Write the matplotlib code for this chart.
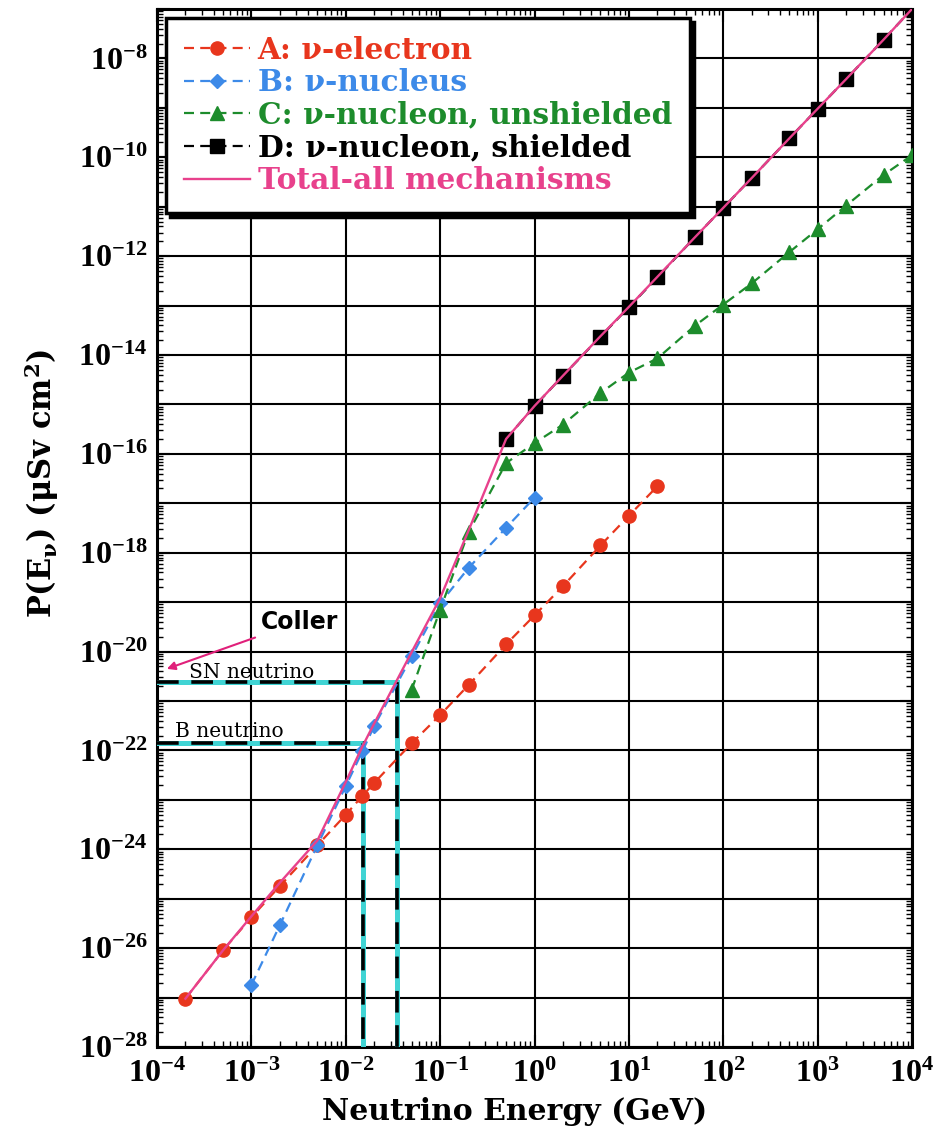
import numpy as np
import matplotlib
matplotlib.use("Agg")
import matplotlib.pyplot as plt
from matplotlib.ticker import LogLocator, FuncFormatter, NullFormatter

# ---- dose conversion coefficients P(E) in uSv cm^2 ----
energy_A = [2e-4, 5e-4, 1e-3, 2e-3, 5e-3, 1e-2, 1.5e-2, 2e-2, 5e-2, 0.1, 0.2, 0.5,
            1, 2, 5, 10, 20]
dose_A = [9.5e-28, 9.0e-27, 4.2e-26, 1.8e-25, 1.2e-24, 5.0e-24, 1.2e-23, 2.2e-23,
          1.4e-22, 5.2e-22, 2.1e-21, 1.4e-20, 5.4e-20, 2.1e-19, 1.4e-18, 5.6e-18,
          2.2e-17]

energy_B = [1e-3, 2e-3, 5e-3, 1e-2, 1.5e-2, 2e-2, 5e-2, 0.1, 0.2, 0.5, 1]
dose_B = [1.8e-27, 2.9e-26, 1.2e-24, 1.9e-23, 9.6e-23, 3.1e-22, 8.0e-21, 9.5e-20,
          4.9e-19, 3.2e-18, 1.3e-17]

energy_C = [5e-2, 0.1, 0.2, 0.5, 1, 2, 5, 10, 20, 50, 100, 200, 500, 1e3, 2e3, 5e3, 1e4]
dose_C = [1.7e-21, 7.0e-20, 2.6e-18, 6.5e-17, 1.65e-16, 3.9e-16, 1.7e-15, 4.4e-15,
          8.5e-15, 3.9e-14, 1.05e-13, 2.8e-13, 1.2e-12, 3.5e-12, 1.05e-11, 4.4e-11,
          1.1e-10]

energy_D = [0.5, 1, 2, 5, 10, 20, 50, 100, 200, 500, 1e3, 2e3, 5e3, 1e4]
dose_D = [2.0e-16, 9.2e-16, 3.8e-15, 2.35e-14, 9.3e-14, 3.7e-13, 2.4e-12, 9.5e-12,
          3.8e-11, 2.4e-10, 9.6e-10, 3.8e-9, 2.4e-8, 1.0e-7]

energy_total = [2e-4, 5e-4, 1e-3, 2e-3, 5e-3, 1e-2, 1.5e-2, 2e-2, 5e-2, 0.1, 0.2, 0.5,
                1, 2, 5, 10, 20, 50, 100, 200, 500, 1e3, 2e3, 5e3, 1e4]
dose_total = [9.5e-28, 9.0e-27, 4.4e-26, 2.1e-25, 1.5e-24, 2.3e-23, 1.2e-22, 3.5e-22,
              9.8e-21, 1.2e-19, 2.8e-18, 2.0e-16, 9.3e-16, 3.8e-15, 2.4e-14, 9.4e-14,
              3.8e-13, 2.4e-12, 9.5e-12, 3.8e-11, 2.4e-10, 9.6e-10, 3.8e-9, 2.4e-8,
              1.0e-7]

labels = ["A: ν-electron", "B: ν-nucleus", "C: ν-nucleon, unshielded",
          "D: ν-nucleon, shielded", "Total-all mechanisms"]

# reference energies marked on the total curve
sn_energy, sn_dose = 0.0346, 2.4e-21
b_energy, b_dose = 0.0153, 1.4e-22

x_limits = (1e-4, 1e4)
y_limits = (1e-28, 1e-7)

RED = "#e8361d"
BLUE = "#3d8ae8"
GREEN = "#1d8c2c"
BLACK = "#000000"
PINK = "#e8418c"
CYAN = "#40d4d4"

plt.rcParams["mathtext.fontset"] = "custom"
plt.rcParams["mathtext.rm"] = "Liberation Serif:bold"
plt.rcParams["mathtext.bf"] = "Liberation Serif:bold"
plt.rcParams["mathtext.it"] = "Liberation Serif:bold"
plt.rcParams["font.family"] = "Liberation Serif"
plt.rcParams["font.weight"] = "bold"

fig = plt.figure(figsize=(9.42, 11.44), dpi=100)
ax = fig.add_axes([157 / 942, 1 - 1047 / 1144, 755 / 942, 1038 / 1144])
ax.set_xscale("log")
ax.set_yscale("log")
ax.set_xlim(*x_limits)
ax.set_ylim(*y_limits)

dash = (0, (4.5, 2.8))
ax.plot(energy_A, dose_A, ls=dash, lw=1.6, color=RED, marker="o", ms=9.5,
        mec=RED, mfc=RED, zorder=4, label=labels[0])
ax.plot(energy_B, dose_B, ls=dash, lw=1.6, color=BLUE, marker="D", ms=7.5,
        mec=BLUE, mfc=BLUE, zorder=4, label=labels[1])
ax.plot(energy_C, dose_C, ls=dash, lw=1.6, color=GREEN, marker="^", ms=10,
        mec=GREEN, mfc=GREEN, zorder=4, label=labels[2])
ax.plot(energy_D, dose_D, ls=dash, lw=1.6, color=BLACK, marker="s", ms=10.5,
        mec=BLACK, mfc=BLACK, zorder=4, label=labels[3])
ax.plot(energy_total, dose_total, ls="-", lw=1.7, color=PINK, zorder=4.5,
        label=labels[4])

# SN and B neutrino reference guides
for e, d in [(sn_energy, sn_dose), (b_energy, b_dose)]:
    xs = [x_limits[0], e, e]
    ys = [d, d, y_limits[0]]
    ax.plot(xs, ys, color=CYAN, lw=3.6, zorder=3, solid_joinstyle="miter")
    ax.plot(xs, ys, color=BLACK, lw=2.6, ls=(0, (6, 3.5)), zorder=3.2)

ax.text(2.2e-4, 10 ** -20.53, "SN neutrino", family="DejaVu Serif",
        weight="normal", fontsize=14.5, va="baseline", ha="left", zorder=6)
ax.text(1.55e-4, 10 ** -21.72, "B neutrino", family="DejaVu Serif",
        weight="normal", fontsize=14.5, va="baseline", ha="left", zorder=6)
ax.annotate("Coller", xy=(1.27e-4, 10 ** -20.35), xytext=(1.25e-3, 10 ** -19.4),
            family="DejaVu Sans", weight="bold", fontsize=17, ha="left",
            va="center", zorder=6,
            arrowprops=dict(arrowstyle="-|>", color="#e0207a", lw=1.5,
                            mutation_scale=12, shrinkA=2, shrinkB=0))

# axes, ticks, grid
ax.grid(True, which="major", color="black", lw=1.5, zorder=1)
ax.xaxis.set_major_locator(LogLocator(base=10, numticks=30))
ax.yaxis.set_major_locator(LogLocator(base=10, numticks=40))
ax.xaxis.set_minor_locator(LogLocator(base=10, subs=np.arange(2, 10), numticks=400))
ax.yaxis.set_minor_locator(LogLocator(base=10, subs=np.arange(2, 10), numticks=400))
ax.xaxis.set_minor_formatter(NullFormatter())
ax.yaxis.set_minor_formatter(NullFormatter())


def x_fmt(v, pos):
    return r"$10^{%d}$" % int(round(np.log10(v)))


def y_fmt(v, pos):
    p = int(round(np.log10(v)))
    return r"$10^{%d}$" % p if p % 2 == 0 else ""


ax.xaxis.set_major_formatter(FuncFormatter(x_fmt))
ax.yaxis.set_major_formatter(FuncFormatter(y_fmt))
ax.tick_params(which="both", direction="in", top=True, right=True)
ax.tick_params(which="major", length=9, width=1.5, labelsize=23)
ax.tick_params(which="minor", length=4.5, width=1.0)
ax.tick_params(axis="x", which="major", pad=9)
ax.tick_params(axis="y", which="major", pad=7)
for s in ax.spines.values():
    s.set_linewidth(2.2)

ax.set_xlabel("Neutrino Energy (GeV)", family="DejaVu Serif", weight="bold",
              fontsize=21.5)
ax.xaxis.set_label_coords((515 - 157) / 755, (1047 - 1112) / 1038)
ax.xaxis.label.set_va("center")
ax.set_ylabel(r"$\mathbf{P(E_{\nu})\ (\mu Sv\ cm^{2})}$", fontsize=22,
              math_fontfamily="dejavuserif")
ax.yaxis.set_label_coords((42 - 157) / 755, (1047 - 483) / 1038)
ax.yaxis.label.set_va("center")

leg = ax.legend(loc="upper left", bbox_to_anchor=(166 / 942, 1 - 18 / 1144),
                bbox_transform=fig.transFigure, borderaxespad=0, borderpad=0.6,
                labelspacing=0.12, handlelength=2.25, handletextpad=0.25,
                numpoints=1, fancybox=False, framealpha=1,
                prop={"family": "DejaVu Serif", "weight": "bold", "size": 21.3},
                labelcolor=[RED, BLUE, GREEN, BLACK, PINK],
                shadow={"ox": 3, "oy": -3, "color": "black", "alpha": 1})
leg.get_frame().set_edgecolor("black")
leg.get_frame().set_linewidth(2.5)
leg.set_zorder(10)

fig.savefig("out.png", dpi=100)
